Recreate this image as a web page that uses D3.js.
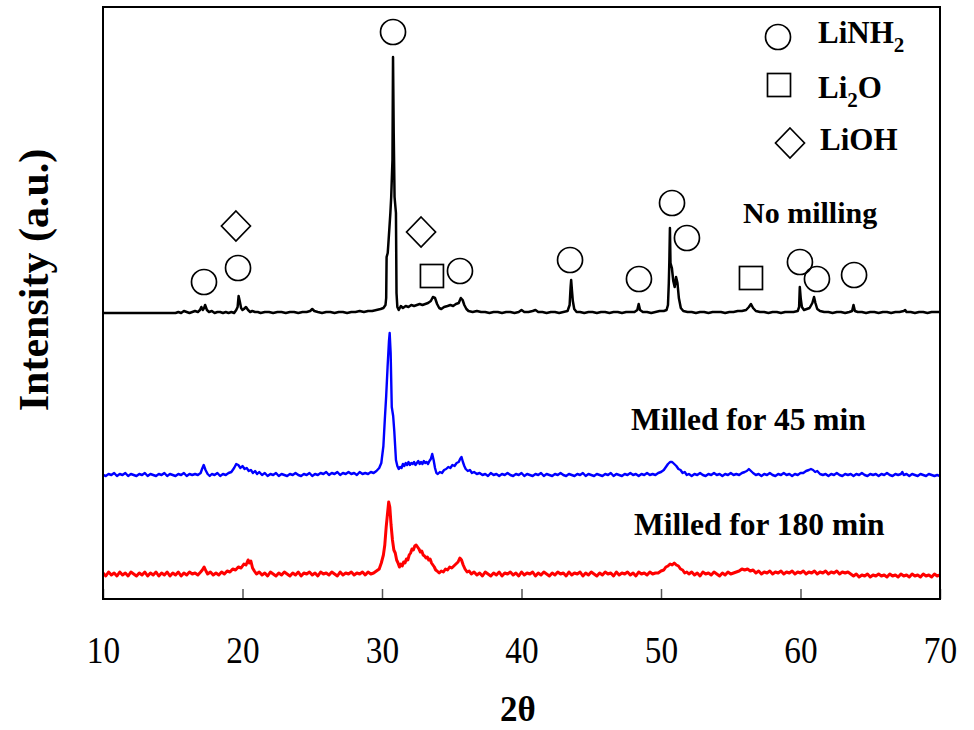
<!DOCTYPE html>
<html>
<head>
<meta charset="utf-8">
<script src="https://cdn.jsdelivr.net/npm/d3@7"></script>
<style>
  html, body { margin: 0; padding: 0; background: #fff; }
  svg { display: block; }
  text { font-family: "Liberation Serif", "Times New Roman", serif; }
</style>
</head>
<body>
<svg id="chart" width="974" height="730"></svg>
<script>
// ---------------- DATA ----------------
const xTicks = [10, 20, 30, 40, 50, 60, 70];
const xTitle = "2θ";
const yTitle = "Intensity (a.u.)";

// vertical stacking offsets for the three patterns (a.u.)
const seriesNames = ["No milling", "Milled for 45 min", "Milled for 180 min"];
const seriesColors = ["#000000", "#0000ff", "#ff0000"];
const seriesOffsets = [286, 123, 24];

// [2θ, intensity] — no milling
const noMilling = [
[10,0],[15.2,0],[15.4,1],[15.6,0],[15.8,2],[16.0,1],[16.2,0],[16.4,1],[16.6,2],[16.8,1],[16.95,3],[17.05,6],[17.15,3],[17.25,5],[17.32,8],[17.45,3],[17.6,1],[17.8,2],[18.0,0],[18.2,1],[18.4,1],[18.6,0],[18.8,1],[19.0,0],[19.2,1],[19.4,0],[19.55,3],[19.65,6],[19.72,17],[19.8,12],[19.9,5],[20.0,3],[20.1,4],[20.25,6],[20.4,3],[20.55,1],[20.7,2],[20.9,1],[21.1,1],[21.3,0],[21.6,1],[21.9,1],[22.2,0],[22.5,1],[22.8,1],[23.1,0],[23.4,1],[23.7,1],[24.0,0],[24.3,1],[24.6,1],[24.85,2],[25.0,4],[25.15,2],[25.4,1],[25.7,0],[26.0,1],[26.3,1],[26.6,0],[26.9,1],[27.2,1],[27.5,0],[27.8,1],[28.1,1],[28.4,2],[28.7,1],[29.0,2],[29.3,2],[29.6,3],[29.9,4],[30.1,5],[30.25,8],[30.3,15],[30.33,56],[30.41,60],[30.45,68],[30.6,100],[30.66,116],[30.75,153],[30.79,256],[30.84,180],[30.9,116],[31.0,100],[31.04,20],[31.1,6],[31.2,3],[31.35,7],[31.5,5],[31.7,7],[31.9,6],[32.1,8],[32.3,7],[32.5,8],[32.7,9],[32.9,8],[33.1,9],[33.3,10],[33.5,12],[33.65,16],[33.8,15],[33.95,9],[34.1,5],[34.25,4],[34.45,6],[34.7,7],[34.9,8],[35.1,7],[35.3,9],[35.5,10],[35.65,15],[35.78,13],[35.9,8],[36.05,4],[36.2,2],[36.5,1],[36.8,2],[37.1,1],[37.4,1],[37.7,0],[38.0,1],[38.3,1],[38.6,0],[38.9,1],[39.2,1],[39.5,0],[39.8,1],[40.0,3],[40.2,1],[40.5,1],[40.8,2],[41.0,3],[41.2,1],[41.5,1],[41.8,0],[42.1,1],[42.4,1],[42.7,0],[43.0,1],[43.3,2],[43.45,8],[43.52,26],[43.56,33],[43.62,22],[43.68,12],[43.78,4],[43.95,1],[44.2,1],[44.5,0],[44.8,1],[45.1,1],[45.4,0],[45.7,1],[46.0,1],[46.3,0],[46.6,1],[46.9,1],[47.2,0],[47.5,1],[47.8,1],[48.1,1],[48.3,3],[48.4,9],[48.5,3],[48.7,1],[49.0,1],[49.3,0],[49.6,1],[49.9,2],[50.2,2],[50.4,3],[50.5,8],[50.56,30],[50.6,53],[50.64,85],[50.68,50],[50.78,45],[50.88,32],[50.98,26],[51.08,36],[51.18,30],[51.28,15],[51.42,5],[51.6,2],[51.9,1],[52.2,1],[52.5,0],[52.8,1],[53.1,1],[53.4,0],[53.7,1],[54.0,1],[54.3,1],[54.6,0],[54.9,1],[55.2,1],[55.5,2],[55.8,2],[56.1,3],[56.3,6],[56.45,9],[56.6,5],[56.8,2],[57.1,1],[57.4,1],[57.7,0],[58.0,1],[58.3,1],[58.6,0],[58.9,1],[59.2,1],[59.5,1],[59.8,2],[59.9,6],[59.95,26],[60.02,14],[60.1,6],[60.25,3],[60.45,4],[60.65,5],[60.85,10],[60.97,16],[61.07,10],[61.2,4],[61.4,2],[61.7,1],[62.0,1],[62.3,0],[62.6,1],[62.9,1],[63.2,0],[63.5,1],[63.7,2],[63.8,8],[63.9,2],[64.1,1],[64.4,1],[64.7,0],[65.0,1],[65.3,1],[65.6,0],[65.9,1],[66.2,1],[66.5,0],[66.8,1],[67.1,1],[67.4,2],[67.5,3],[67.6,1],[67.9,1],[68.2,0],[68.5,1],[68.8,1],[69.1,0],[69.4,1],[69.7,1],[70,1]
];

// [2θ, intensity] — milled 45 min
const milled45 = [
[10,1],[10.2,0],[10.4,2],[10.6,1],[10.8,3],[11.0,0],[11.2,2],[11.4,1],[11.6,3],[11.8,0],[12.0,2],[12.2,1],[12.4,0],[12.6,2],[12.8,1],[13.0,3],[13.2,0],[13.4,2],[13.6,1],[13.8,0],[14.0,2],[14.2,1],[14.4,3],[14.6,0],[14.8,2],[15.0,1],[15.2,0],[15.4,2],[15.6,1],[15.8,3],[16.0,0],[16.2,2],[16.4,1],[16.6,2],[16.8,1],[17.0,3],[17.1,7],[17.22,11],[17.35,6],[17.5,2],[17.65,0],[17.8,2],[18.0,1],[18.2,3],[18.4,0],[18.6,2],[18.8,1],[19.0,3],[19.2,4],[19.4,8],[19.55,12],[19.7,11],[19.85,8],[20.0,10],[20.15,7],[20.3,8],[20.45,5],[20.6,6],[20.75,3],[20.9,5],[21.05,2],[21.2,4],[21.4,1],[21.6,3],[21.8,0],[22.0,2],[22.2,1],[22.4,3],[22.6,0],[22.8,2],[23.0,1],[23.2,0],[23.4,2],[23.6,1],[23.8,3],[24.0,1],[24.2,0],[24.4,2],[24.6,1],[24.8,3],[25.0,0],[25.2,2],[25.4,1],[25.6,3],[25.8,2],[26.0,4],[26.2,1],[26.4,3],[26.6,2],[26.8,4],[27.0,1],[27.2,3],[27.4,2],[27.6,4],[27.8,2],[28.0,3],[28.2,1],[28.4,4],[28.6,2],[28.8,3],[29.0,2],[29.2,4],[29.4,3],[29.6,5],[29.8,8],[29.95,13],[30.1,30],[30.2,56],[30.3,80],[30.4,109],[30.5,135],[30.55,143],[30.62,123],[30.7,69],[30.8,60],[30.88,45],[31.0,16],[31.1,10],[31.2,7],[31.3,9],[31.4,8],[31.5,12],[31.6,10],[31.7,13],[31.8,11],[31.9,14],[32.0,11],[32.1,13],[32.2,12],[32.3,14],[32.4,11],[32.5,13],[32.6,15],[32.7,12],[32.8,14],[32.9,12],[33.0,15],[33.1,13],[33.2,14],[33.3,12],[33.4,15],[33.5,17],[33.6,22],[33.7,16],[33.8,8],[33.9,3],[34.0,2],[34.15,4],[34.3,3],[34.45,6],[34.6,7],[34.75,9],[34.9,8],[35.05,11],[35.2,10],[35.35,13],[35.5,14],[35.6,17],[35.7,19],[35.8,14],[35.9,10],[36.0,7],[36.15,5],[36.3,6],[36.45,3],[36.6,4],[36.8,2],[37.0,3],[37.2,1],[37.4,2],[37.6,0],[37.8,3],[38.0,1],[38.2,2],[38.4,0],[38.6,2],[38.8,1],[39.0,3],[39.2,1],[39.4,0],[39.6,2],[39.8,1],[40.0,3],[40.2,0],[40.4,2],[40.6,1],[40.8,0],[41.0,2],[41.2,1],[41.4,3],[41.6,0],[41.8,2],[42.0,1],[42.2,0],[42.4,2],[42.6,1],[42.8,3],[43.0,1],[43.2,0],[43.4,2],[43.6,1],[43.8,0],[44.0,2],[44.2,1],[44.4,3],[44.6,0],[44.8,2],[45.0,1],[45.2,0],[45.4,2],[45.6,1],[45.8,0],[46.0,2],[46.2,1],[46.4,3],[46.6,0],[46.8,2],[47.0,1],[47.2,0],[47.4,2],[47.6,1],[47.8,3],[48.0,1],[48.2,2],[48.4,0],[48.6,2],[48.8,1],[49.0,3],[49.2,1],[49.4,2],[49.6,1],[49.8,3],[50.0,4],[50.2,6],[50.35,9],[50.5,12],[50.65,14],[50.8,14],[50.95,12],[51.1,10],[51.25,7],[51.4,6],[51.55,3],[51.7,4],[51.85,1],[52.0,2],[52.2,0],[52.4,2],[52.6,1],[52.8,3],[53.0,1],[53.2,0],[53.4,2],[53.6,1],[53.8,3],[54.0,1],[54.2,2],[54.4,0],[54.6,2],[54.8,1],[55.0,3],[55.2,1],[55.4,2],[55.6,1],[55.8,3],[56.0,4],[56.15,5],[56.3,7],[56.45,5],[56.6,3],[56.8,1],[57.0,2],[57.2,0],[57.4,2],[57.6,1],[57.8,3],[58.0,1],[58.2,0],[58.4,2],[58.6,1],[58.8,3],[59.0,1],[59.2,2],[59.4,0],[59.6,2],[59.8,1],[60.0,3],[60.2,3],[60.4,5],[60.6,6],[60.75,7],[60.9,6],[61.05,4],[61.2,5],[61.4,2],[61.6,1],[61.8,2],[62.0,0],[62.2,2],[62.4,1],[62.6,3],[62.8,1],[63.0,0],[63.2,2],[63.4,1],[63.6,2],[63.8,0],[64.0,2],[64.2,1],[64.4,3],[64.6,1],[64.8,0],[65.0,2],[65.2,1],[65.4,2],[65.6,0],[65.8,2],[66.0,1],[66.2,3],[66.4,1],[66.6,0],[66.8,2],[67.0,1],[67.2,2],[67.3,4],[67.4,1],[67.6,2],[67.8,0],[68.0,2],[68.2,1],[68.4,0],[68.6,2],[68.8,1],[69.0,0],[69.2,2],[69.4,1],[69.6,0],[69.8,1],[70,0]
];

// [2θ, intensity] — milled 180 min
const milled180 = [
[10,2],[10.2,-1],[10.4,3],[10.6,0],[10.8,2],[11.0,-1],[11.2,3],[11.4,0],[11.6,2],[11.8,-1],[12.0,3],[12.2,1],[12.4,-1],[12.6,2],[12.8,0],[13.0,3],[13.2,-1],[13.4,2],[13.6,0],[13.8,3],[14.0,-1],[14.2,2],[14.4,0],[14.6,3],[14.8,-1],[15.0,2],[15.2,0],[15.4,3],[15.6,-1],[15.8,2],[16.0,0],[16.2,3],[16.4,1],[16.6,2],[16.8,0],[17.0,3],[17.12,5],[17.25,8],[17.38,4],[17.5,1],[17.7,3],[17.9,0],[18.1,2],[18.3,0],[18.5,3],[18.7,1],[18.9,4],[19.1,3],[19.3,6],[19.5,5],[19.7,8],[19.9,7],[20.1,11],[20.25,10],[20.4,15],[20.5,12],[20.6,14],[20.72,7],[20.85,4],[21.0,1],[21.2,3],[21.4,0],[21.6,2],[21.8,-1],[22.0,3],[22.2,1],[22.4,-1],[22.6,2],[22.8,0],[23.0,3],[23.2,1],[23.4,-1],[23.6,2],[23.8,0],[24.0,3],[24.2,-1],[24.4,2],[24.6,1],[24.8,3],[25.0,0],[25.2,2],[25.4,-1],[25.6,3],[25.8,1],[26.0,2],[26.2,0],[26.4,3],[26.6,1],[26.8,-1],[27.0,3],[27.2,0],[27.4,2],[27.6,1],[27.8,3],[28.0,0],[28.2,2],[28.4,1],[28.6,3],[28.8,0],[29.0,3],[29.2,1],[29.4,2],[29.6,4],[29.8,6],[29.95,12],[30.1,20],[30.2,30],[30.3,48],[30.4,62],[30.48,73],[30.56,68],[30.65,50],[30.75,35],[30.85,25],[30.95,22],[31.05,15],[31.15,12],[31.25,8],[31.35,11],[31.45,9],[31.55,13],[31.65,12],[31.75,16],[31.85,15],[31.95,20],[32.05,22],[32.15,26],[32.25,25],[32.35,29],[32.45,30],[32.55,28],[32.65,26],[32.75,23],[32.85,24],[32.95,20],[33.05,19],[33.15,17],[33.25,18],[33.35,15],[33.45,16],[33.55,12],[33.65,10],[33.75,8],[33.85,5],[33.95,4],[34.1,2],[34.25,4],[34.4,3],[34.55,6],[34.7,5],[34.85,8],[35.0,7],[35.15,9],[35.3,11],[35.45,13],[35.58,17],[35.7,15],[35.82,10],[35.95,6],[36.1,3],[36.25,4],[36.4,1],[36.6,3],[36.8,0],[37.0,2],[37.2,-1],[37.4,3],[37.6,1],[37.8,-1],[38.0,2],[38.2,0],[38.4,3],[38.6,-1],[38.8,2],[39.0,1],[39.2,3],[39.4,0],[39.6,2],[39.8,-1],[40.0,3],[40.2,0],[40.4,2],[40.6,1],[40.8,3],[41.0,-1],[41.2,2],[41.4,0],[41.6,3],[41.8,1],[42.0,-1],[42.2,2],[42.4,0],[42.6,3],[42.8,1],[43.0,2],[43.2,-1],[43.4,3],[43.6,0],[43.8,2],[44.0,1],[44.2,3],[44.4,-1],[44.6,2],[44.8,0],[45.0,3],[45.2,1],[45.4,-1],[45.6,2],[45.8,0],[46.0,3],[46.2,1],[46.4,2],[46.6,-1],[46.8,3],[47.0,0],[47.2,2],[47.4,1],[47.6,3],[47.8,0],[48.0,2],[48.2,-1],[48.4,3],[48.6,1],[48.8,2],[49.0,0],[49.2,3],[49.4,1],[49.6,2],[49.8,2],[50.0,4],[50.2,5],[50.35,8],[50.5,9],[50.65,11],[50.8,10],[50.95,12],[51.1,10],[51.25,9],[51.4,6],[51.55,5],[51.7,2],[51.85,3],[52.0,1],[52.2,3],[52.4,0],[52.6,2],[52.8,-1],[53.0,3],[53.2,1],[53.4,2],[53.6,0],[53.8,3],[54.0,1],[54.2,-1],[54.4,2],[54.6,0],[54.8,3],[55.0,1],[55.2,2],[55.4,3],[55.6,4],[55.8,6],[56.0,5],[56.2,6],[56.4,4],[56.6,5],[56.8,2],[57.0,4],[57.2,1],[57.4,3],[57.6,2],[57.8,4],[58.0,1],[58.2,3],[58.4,2],[58.6,4],[58.8,1],[59.0,3],[59.2,2],[59.4,4],[59.6,1],[59.8,3],[60.0,2],[60.2,4],[60.4,1],[60.6,3],[60.8,2],[61.0,4],[61.2,1],[61.4,3],[61.6,2],[61.8,4],[62.0,1],[62.2,3],[62.4,2],[62.6,4],[62.8,1],[63.0,3],[63.2,2],[63.4,3],[63.6,1],[63.8,-1],[64.0,1],[64.2,-2],[64.4,0],[64.6,-1],[64.8,1],[65.0,-2],[65.2,0],[65.4,-1],[65.6,1],[65.8,-1],[66.0,0],[66.2,-2],[66.4,1],[66.6,-1],[66.8,0],[67.0,-2],[67.2,1],[67.4,-1],[67.6,0],[67.8,-2],[68.0,1],[68.2,-1],[68.4,0],[68.6,-2],[68.8,1],[69.0,-1],[69.2,0],[69.4,-2],[69.6,1],[69.8,-1],[70,0]
];

// phase markers on the "no milling" pattern: [type, 2θ, stacked intensity]
const phaseMarkers = [
["circle",17.24,317],["circle",19.68,331],["diamond",19.53,373],["circle",30.79,567],
["diamond",32.8,367],["square",33.58,323],["circle",35.59,328],["circle",43.48,339],
["circle",48.42,320],["circle",50.79,396],["circle",51.86,361],["square",56.45,321],
["circle",59.96,337],["circle",61.18,320],["circle",63.84,324]
];
// series label anchors: [2θ, stacked intensity]
const labelAnchors = [[55.88,376],[47.85,169],[48.06,64]];

// legend
const legendTypes = ["circle", "square", "diamond"];
const legendMain = ["LiNH", "Li", "LiOH"];
const legendSub = ["2", "2", ""];
const legendTail = ["", "O", ""];

// ---------------- DRAW ----------------
const L = 103, R = 940, T = 7, B = 599;
const svg = d3.select("#chart");
const x = d3.scaleLinear().domain([10, 70]).range([L, R]);
const y = d3.scaleLinear().domain([0, 592]).range([B, T]);

svg.append("defs").append("clipPath").attr("id", "clip")
  .append("rect").attr("x", L).attr("y", T).attr("width", R - L).attr("height", B - T);

// x axis (inward ticks)
const ax = svg.append("g").attr("transform", `translate(0,${B})`)
  .call(d3.axisBottom(x).tickValues(xTicks).tickFormat(d3.format("d"))
        .tickSizeInner(-10).tickSizeOuter(0).tickPadding(38));
ax.select(".domain").remove();
ax.selectAll(".tick line").attr("stroke", "#555").attr("stroke-width", 1.5);
ax.selectAll(".tick text").attr("font-size", 37).attr("fill", "#000")
  .attr("font-family", "'Liberation Serif', 'Times New Roman', serif")
  .attr("transform", "scale(0.9,1)");

// series
const allSeries = [noMilling, milled45, milled180];
const widths = [2.5, 2.4, 3.0];
const gLines = svg.append("g").attr("clip-path", "url(#clip)");
allSeries.forEach((data, i) => {
  const line = d3.line().x(d => x(d[0])).y(d => y(d[1] + seriesOffsets[i]));
  gLines.append("path").datum(data)
    .attr("d", line).attr("fill", "none")
    .attr("stroke", seriesColors[i]).attr("stroke-width", widths[i])
    .attr("stroke-linejoin", "round");
});

// frame
svg.append("rect").attr("x", L).attr("y", T).attr("width", R - L).attr("height", B - T)
  .attr("fill", "none").attr("stroke", "#000").attr("stroke-width", 2);

// marker drawing
function drawMarker(g, type, cx, cy) {
  if (type === "circle") {
    g.append("circle").attr("cx", cx).attr("cy", cy).attr("r", 12.5)
      .attr("fill", "none").attr("stroke", "#000").attr("stroke-width", 1.7);
  } else if (type === "square") {
    g.append("rect").attr("x", cx - 11.5).attr("y", cy - 11.5).attr("width", 23).attr("height", 23)
      .attr("fill", "none").attr("stroke", "#000").attr("stroke-width", 1.7);
  } else {
    const p = d3.path();
    p.moveTo(cx, cy - 15); p.lineTo(cx + 14.5, cy); p.lineTo(cx, cy + 15); p.lineTo(cx - 14.5, cy); p.closePath();
    g.append("path").attr("d", p.toString())
      .attr("fill", "none").attr("stroke", "#000").attr("stroke-width", 1.7);
  }
}
const gMarks = svg.append("g");
phaseMarkers.forEach(m => drawMarker(gMarks, m[0], x(m[1]), y(m[2])));

// series labels
seriesNames.forEach((name, i) => {
  svg.append("text").attr("x", x(labelAnchors[i][0])).attr("y", y(labelAnchors[i][1]))
    .attr("font-size", i === 0 ? 30 : 31.5).attr("font-weight", "bold").attr("fill", "#000")
    .text(name);
});

// legend
const legendY = [37, 85, 143];
const legendX = [778, 779, 790];
const legendTextY = [43, 98, 150];
const legendTextX = [818, 818, 820];
legendTypes.forEach((t, i) => {
  drawMarker(svg, t, legendX[i], legendY[i]);
  const tx = svg.append("text").attr("x", legendTextX[i]).attr("y", legendTextY[i])
    .attr("font-size", 31).attr("font-weight", "bold").attr("fill", "#000");
  tx.append("tspan").text(legendMain[i]);
  if (legendSub[i]) tx.append("tspan").attr("font-size", 21).attr("dy", 9).text(legendSub[i]);
  if (legendTail[i]) tx.append("tspan").attr("dy", -9).text(legendTail[i]);
});

// axis titles
svg.append("text").attr("x", 518).attr("y", 721).attr("text-anchor", "middle")
  .attr("font-size", 35).attr("font-weight", "bold").attr("fill", "#000").text(xTitle);
svg.append("text").attr("transform", "translate(48,280) rotate(-90)").attr("text-anchor", "middle")
  .attr("font-size", 42).attr("font-weight", "bold").attr("fill", "#000").text(yTitle);
</script>
</body>
</html>
